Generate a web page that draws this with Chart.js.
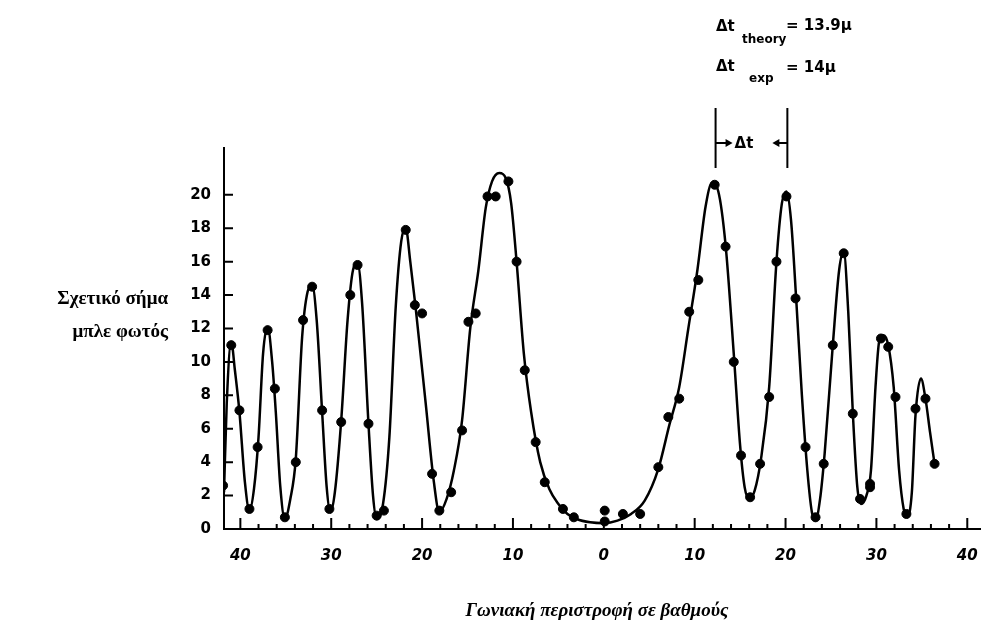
<!DOCTYPE html>
<html>
<head>
<meta charset="utf-8">
<script src="https://cdn.jsdelivr.net/npm/chart.js@4/dist/chart.umd.min.js"></script>
<style>
  body { margin:0; background:#fff; }
  #wrap { width:986px; height:641px; position:relative; }
</style>
</head>
<body>
<div id="wrap"><canvas id="chart"></canvas></div>
<script>
// measured points (angle in degrees, relative blue light signal)
let markX = [-41.9,-41.0,-40.1,-39.0,-38.1,-37.0,-36.2,-35.1,-33.9,-33.1,-32.1,-31.0,-30.2,-28.9,-27.9,-27.1,-25.9,-25.0,-24.2,
  -21.8,-20.8,-20.0,-18.9,-18.1,-16.8,-15.6,-14.9,-14.1,-12.8,-11.9,-10.5,-9.6,-8.7,-7.5,-6.5,-4.5,-3.3,
  0.1,0.1,2.1,4.0,6.0,7.1,8.3,9.4,10.4,12.2,13.4,14.3,15.1,16.1,17.2,18.2,19.0,20.1,21.1,22.2,23.3,24.2,
  25.2,26.4,27.4,28.2,29.3,29.3,30.5,31.3,32.1,33.3,34.3,35.4,36.4];
let markY = [2.6,11.0,7.1,1.2,4.9,11.9,8.4,0.7,4.0,12.5,14.5,7.1,1.2,6.4,14.0,15.8,6.3,0.8,1.1,
  17.9,13.4,12.9,3.3,1.1,2.2,5.9,12.4,12.9,19.9,19.9,20.8,16.0,9.5,5.2,2.8,1.2,0.7,
  1.1,0.45,0.9,0.9,3.7,6.7,7.8,13.0,14.9,20.6,16.9,10.0,4.4,1.9,3.9,7.9,16.0,19.9,13.8,4.9,0.7,3.9,
  11.0,16.5,6.9,1.8,2.5,2.7,11.4,10.9,7.9,0.9,7.2,7.8,3.9];

// fitted curve
let curveX = [-41.8,-41.5,-41.0,-40.6,-40.1,-39.5,-39.0,-38.5,-38.0,-37.5,-37.0,-36.5,-36.1,-35.6,-35.1,-34.5,-33.9,-33.2,-32.6,-32.1,
  -31.6,-31.0,-30.5,-30.1,-29.6,-28.9,-28.2,-27.6,-27.1,-26.6,-25.9,-25.4,-25.0,-24.3,-23.6,-22.9,-22.3,-21.8,-21.3,-20.7,
  -19.6,-18.7,-18.1,-17.3,-16.5,-15.6,-14.7,-13.8,-13.0,-12.3,-11.5,-10.8,-10.2,-9.6,-8.8,-8.0,-7.0,-6.0,-5.0,-4.0,
  -3.0,-1.5,0,1.5,3.0,4.5,6.0,7.2,8.3,9.3,10.3,11.2,11.9,12.6,13.4,14.3,15.0,15.5,16.0,16.6,
  17.3,18.2,19.0,19.6,20.1,20.6,21.2,21.8,22.4,22.9,23.3,23.8,24.3,25.2,25.9,26.4,26.9,27.4,27.9,28.3,
  28.9,29.4,29.9,30.3,30.8,31.3,31.9,32.5,33.0,33.4,33.9,34.3,34.9,35.4,35.9,36.4];
let curveY = [2.2,7.5,11.2,9.5,7.0,2.8,1.1,2.4,5.5,10.5,12.1,10.0,7.0,2.5,0.6,1.8,4.2,11.5,14.2,14.6,
  12.5,7.0,2.5,1.0,2.2,6.5,12.5,15.5,15.9,13.5,6.3,2.0,0.6,1.5,5.5,13.3,17.2,18.0,16.0,13.2,
  7.5,2.8,1.0,1.8,3.5,6.5,12.0,15.5,19.2,20.8,21.3,21.0,19.5,16.0,10.5,7.0,4.0,2.4,1.5,0.9,
  0.6,0.4,0.35,0.5,0.9,1.7,3.6,6.2,8.5,12.0,15.5,19.3,20.7,20.2,17.0,10.5,5.0,2.5,1.8,2.3,
  4.2,8.5,16.0,19.5,20.2,18.5,13.5,8.0,3.5,1.0,0.5,1.8,4.5,11.0,15.5,16.6,13.0,7.0,2.5,1.5,
  2.0,3.5,8.5,11.2,11.6,11.0,8.5,3.5,1.2,0.7,2.2,6.8,9.0,7.8,5.8,3.9];

let xTicks = [-40,-30,-20,-10,0,10,20,30,40];
let yTicks = [0,2,4,6,8,10,12,14,16,18,20];

let pts = (xs, ys) => xs.map((x,i) => ({x:x, y:ys[i]}));

// inward tick marks, delta-t bracket and the texts around the plot
let decor = {
  id:'decor',
  afterDraw(chart){
    let c = chart.ctx, xs = chart.scales.x, ys = chart.scales.y, a = chart.chartArea;
    c.save();
    c.strokeStyle = '#000';
    c.fillStyle = '#000';
    c.lineWidth = 2;
    c.beginPath();
    for (let v = -40; v <= 40; v += 2) {
      let px = xs.getPixelForValue(v);
      let len = (v % 10 === 0) ? 11 : 5;
      c.moveTo(px, a.bottom); c.lineTo(px, a.bottom - len);
    }
    yTicks.forEach(v => {
      let py = ys.getPixelForValue(v);
      c.moveTo(a.left, py); c.lineTo(a.left + 9, py);
    });
    c.stroke();

    // delta t bracket between the two right peaks
    let l = xs.getPixelForValue(12.3), r = xs.getPixelForValue(20.2);
    c.lineWidth = 2;
    c.beginPath();
    c.moveTo(l, 108); c.lineTo(l, 168);
    c.moveTo(r, 108); c.lineTo(r, 168);
    c.moveTo(l, 143); c.lineTo(l + 14, 143);
    c.moveTo(r, 143); c.lineTo(r - 12, 143);
    c.stroke();
    c.beginPath();
    c.moveTo(l + 17, 143); c.lineTo(l + 10, 139); c.lineTo(l + 10, 147); c.closePath();
    c.moveTo(r - 15, 143); c.lineTo(r - 8, 139); c.lineTo(r - 8, 147); c.closePath();
    c.fill();
    c.font = 'bold 15px "DejaVu Sans"';
    c.textAlign = 'left'; c.textBaseline = 'middle';
    c.fillText('Δt', l + 19, 144);

    // formulas at the top
    c.font = 'bold 15px "DejaVu Sans"';
    c.fillText('Δt', 716, 27);
    c.fillText('Δt', 716, 67);
    c.font = 'bold 12px "DejaVu Sans"';
    c.fillText('theory', 742, 40);
    c.fillText('exp', 749, 79);
    c.font = 'bold 15px "DejaVu Sans"';
    c.fillText('= 13.9μ', 786, 26);
    c.fillText('= 14μ', 786, 68);

    // axis titles
    c.font = 'bold 19px "Liberation Serif"';
    c.textAlign = 'right';
    c.fillText('Σχετικό σήμα', 168, 299);
    c.fillText('μπλε φωτός', 168, 332);
    c.font = 'italic bold 19px "Liberation Serif"';
    c.textAlign = 'center';
    c.fillText('Γωνιακή περιστροφή σε βαθμούς', 597, 611);
    c.restore();
  }
};

new Chart(document.getElementById('chart').getContext('2d'), {
  type:'scatter',
  data:{
    datasets:[{
      label:'fit',
      type:'line',
      data:pts(curveX, curveY),
      borderColor:'#000',
      borderWidth:2.5,
      pointRadius:0,
      fill:false,
      cubicInterpolationMode:'monotone',
      order:2
    },{
      label:'measured',
      data:pts(markX, markY),
      backgroundColor:'#000',
      borderColor:'#000',
      pointRadius:4.5,
      pointHoverRadius:5,
      order:1
    }]
  },
  options:{
    responsive:true,
    maintainAspectRatio:false,
    animation:false,
    layout:{ padding:{ left:0, top:148, right:2, bottom:0 } },
    plugins:{
      legend:{ display:false },
      tooltip:{ enabled:false }
    },
    scales:{
      x:{
        type:'linear',
        min:-41.8,
        max:41.4,
        afterFit:(s)=>{ s.height = 112; s.paddingLeft = 0; s.paddingRight = 0; },
        afterBuildTicks:(s)=>{ s.ticks = xTicks.map(v => ({value:v})); },
        grid:{ display:false, drawTicks:false },
        border:{ display:true, color:'#000', width:2 },
        ticks:{
          color:'#000',
          padding:18,
          maxRotation:0,
          autoSkip:false,
          font:{ size:15, weight:'bold', style:'italic', family:'DejaVu Sans' },
          callback:(v)=>Math.abs(v)
        }
      },
      y:{
        type:'linear',
        min:0,
        max:22.8,
        afterFit:(s)=>{ s.width = 224; s.paddingTop = 0; s.paddingBottom = 0; },
        afterBuildTicks:(s)=>{ s.ticks = yTicks.map(v => ({value:v})); },
        grid:{ display:false, drawTicks:false },
        border:{ display:true, color:'#000', width:2 },
        ticks:{
          color:'#000',
          padding:13,
          font:{ size:15, weight:'bold', family:'DejaVu Sans' }
        }
      }
    }
  },
  plugins:[decor]
});
</script>
</body>
</html>
